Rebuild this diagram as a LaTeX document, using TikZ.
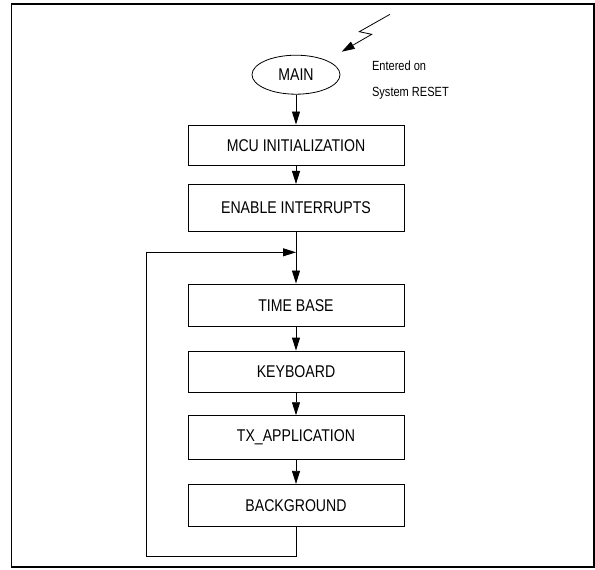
\documentclass[tikz,border=0pt]{standalone}
\usepackage{fontspec}
\setmainfont{Liberation Sans}[FakeStretch=0.83]
\usetikzlibrary{arrows.meta,shapes.geometric}

\begin{document}
\begin{tikzpicture}[x=1pt, y=-1pt, line width=0.8pt,
    flow/.style={-{Triangle[length=13pt, width=8pt]}},
    stepbox/.style={draw, rectangle, minimum width=216pt, inner sep=0pt,
                    font=\fontsize{17}{20}\selectfont},
    note/.style={anchor=base west, inner sep=0pt,
                 font=\fontsize{13.3}{16}\selectfont}]

\useasboundingbox (0,0) rectangle (595,570);
\draw[line width=1.5pt] (11.5,4) rectangle (594,567);

% --- entry point, hit by the reset bolt -----------------------------------
\node[draw, ellipse, minimum width=88pt, minimum height=39pt, inner sep=0pt,
      font=\fontsize{17}{20}\selectfont] (main) at (296,74.7) {MAIN};

\coordinate (bolt1) at (390,14.3);
\coordinate (bolt2) at (359.3,31.7);
\coordinate (bolt3) at (371.7,34.3);
\coordinate (bolt4) at (341.7,51.7);
\draw[flow] (bolt1) -- (bolt2) -- (bolt3) -- (bolt4);

\node[note] (entered) at (371.7,70.5) {Entered on};
\node[note] (reset) at (371.7,96.5) {System RESET};

% --- the steps --  name/centre y/height/label ------------------------------
\foreach \name/\y/\h/\text in {%
    init/145.3/40.7/{MCU INITIALIZATION},
    irq/207.7/46.7/{ENABLE INTERRUPTS},
    timebase/305.3/42.7/{TIME BASE},
    keyboard/371.5/41/{KEYBOARD},
    txapp/437.3/43.3/{TX\_APPLICATION},
    background/505.5/42.4/{BACKGROUND}}
{
  \node[stepbox, minimum height=\h pt] (\name) at (296,\y) {\text};
}

\draw[flow] (main) -- (init);
\draw[flow] (init) -- (irq);
\draw[flow] (irq) -- (timebase);
\draw[flow] (timebase) -- (keyboard);
\draw[flow] (keyboard) -- (txapp);
\draw[flow] (txapp) -- (background);

% --- main loop back to the top of the time base ----------------------------
\coordinate (loopturn) at (146.7,556.7);
\coordinate (join) at (296,252.3);
\draw[flow] (background.south) |- (loopturn) |- (join);
\end{tikzpicture}
\end{document}
